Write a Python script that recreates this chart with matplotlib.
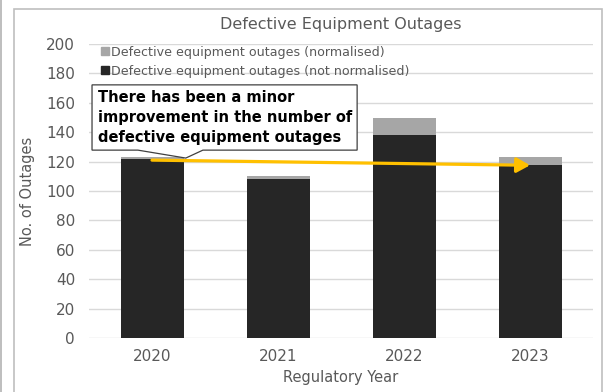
import matplotlib
matplotlib.use("Agg")
import matplotlib.pyplot as plt
from matplotlib.patches import Polygon, Rectangle
from matplotlib.lines import Line2D

plt.rcParams['font.family'] = ['DejaVu Sans']

years = ["2020", "2021", "2022", "2023"]
not_normalised = [122, 108, 138, 118]
normalised_extra = [1, 2, 12, 5]
trend_start = 121
trend_end = 117.5
y_ticks = [0, 20, 40, 60, 80, 100, 120, 140, 160, 180, 200]

TEXT = "#595959"
DARK = "#262626"
GREY = "#a6a6a6"
GOLD = "#FFC000"

fig = plt.figure(figsize=(6.04, 3.92), dpi=100)
W, H = 604, 392

# outer chart frame
fig.patches.append(Rectangle((13.5 / W, -0.05), (602 - 13.5) / W, 1.05 - 8.5 / H,
                             transform=fig.transFigure, fill=False,
                             ec="#bfbfbf", lw=1.2))
fig.patches.append(Rectangle((0.5 / W, -0.05), 0, 1.1, transform=fig.transFigure,
                             fill=False, ec="#bfbfbf", lw=1.2))

ax = fig.add_axes([89 / W, 1 - 338 / H, (593 - 89) / W, (338 - 44) / H])
x = list(range(len(years)))
ax.bar(x, not_normalised, width=0.5, color=DARK, zorder=2)
ax.bar(x, normalised_extra, width=0.5, bottom=not_normalised, color=GREY, zorder=2)

ax.set_xlim(-0.5, 3.5)
ax.set_ylim(0, 200)
ax.set_yticks(y_ticks)
ax.set_xticks(x)
ax.set_xticklabels(years)
ax.yaxis.grid(True, color="#d9d9d9", lw=1)
ax.set_axisbelow(True)
for s in ax.spines.values():
    s.set_visible(False)
ax.tick_params(length=0, colors=TEXT, labelsize=11, pad=10)
ax.tick_params(axis='x', pad=8)

ax.set_xlabel("Regulatory Year", color=TEXT, fontsize=10.5, labelpad=4)
ax.set_ylabel("No. of Outages", color=TEXT, fontsize=10.5, labelpad=8)
ax.set_title("Defective Equipment Outages", color=TEXT, fontsize=11.5, pad=11,
             x=0.5)

handles = [Line2D([], [], marker='s', ls='none', color=GREY, markersize=6),
           Line2D([], [], marker='s', ls='none', color=DARK, markersize=6)]
ax.legend(handles, ["Defective equipment outages (normalised)",
                    "Defective equipment outages (not normalised)"],
          loc="upper left", bbox_to_anchor=(0.012, 1.015), frameon=False,
          fontsize=9.1, labelcolor=TEXT, handlelength=0.6, handletextpad=0.2,
          labelspacing=0.45, borderaxespad=0.1)

# trend arrow
ax.annotate("", xy=(3, trend_end), xytext=(0, trend_start),
            arrowprops=dict(arrowstyle="-|>,head_length=0.8,head_width=0.45",
                            color=GOLD, lw=2.3, shrinkA=0, shrinkB=0), zorder=4)

# callout box with pointer
bx0, bx1, by0, by1 = 0.006, 0.532, 0.639, 0.861
shape = [(bx0, by0), (bx0, by1), (bx1, by1), (bx1, by0),
         (0.226, by0), (0.192, 0.612), (0.097, by0)]
ax.add_patch(Polygon(shape, closed=True, transform=ax.transAxes, fc="white",
                     ec="#404040", lw=0.9, zorder=5))
ax.text(0.018, 0.845, "There has been a minor\nimprovement in the number of\n"
        "defective equipment outages", transform=ax.transAxes, ha="left",
        va="top", fontsize=10.5, fontweight="bold", color="black",
        linespacing=1.42, zorder=6)

fig.savefig("out.png", dpi=100)
